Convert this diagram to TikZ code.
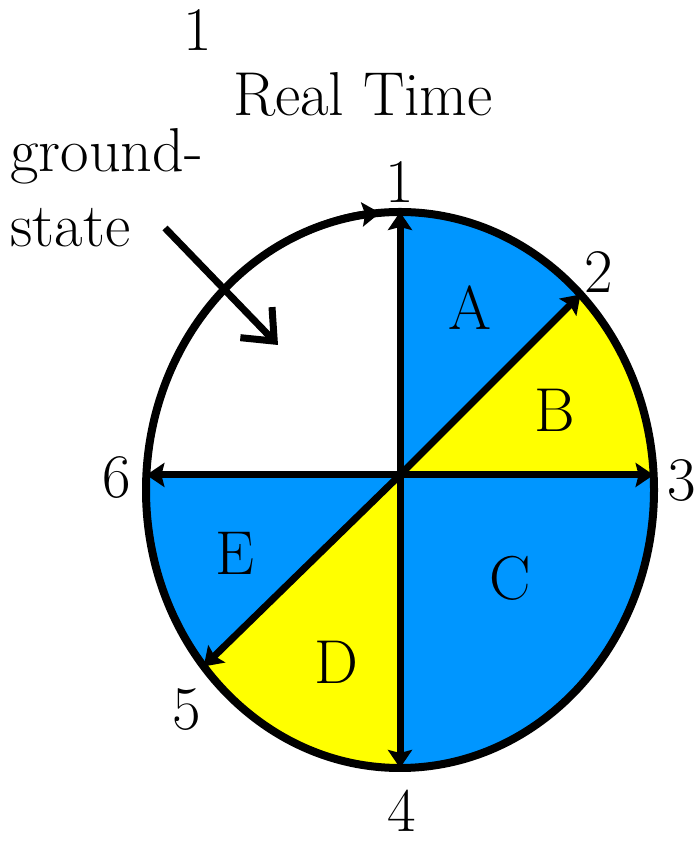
\documentclass[tikz,border=0pt]{standalone}
\usetikzlibrary{arrows.meta,calc}
\definecolor{rtInk}{HTML}{000000}
\definecolor{rtBlue}{HTML}{0096FF}
\definecolor{rtYellow}{HTML}{FFFF00}
\tikzset{
  lbl/.style={font=\fontsize{31}{37.5}\selectfont, inner sep=0pt},
  rim/.style={draw=rtInk, line width=4pt},
  arr/.style={-{Stealth[length=9pt, width=12pt, inset=1.5pt]}, line width=3.5pt, draw=rtInk},
  dbl/.style={{Stealth[length=9pt, width=12pt, inset=1.5pt]}-{Stealth[length=9pt, width=12pt, inset=1.5pt]}, line width=3.5pt, draw=rtInk},
  ptr/.style={-{Straight Barb[length=13pt, width=22pt]}, line width=3.5pt, draw=rtInk},
}
\begin{document}
\begin{tikzpicture}[x=0.5pt, y=0.5pt]
  \useasboundingbox (0,0) rectangle (696,845);
  \coordinate (E0) at (400,355);
  \coordinate (O) at (400,370);
  \foreach \n/\a in {1/90, 2/44.7, 3/3.1, 4/-90, 5/-140.6, 6/-183.1}
    \coordinate (p\n) at ($(E0)+(\a:254 and 278)$);
  \coordinate (m0) at ($(E0)+(115:254 and 278)$);
  \coordinate (gs0) at (165,617);
  \coordinate (gs1) at (278,500);

  % coloured sectors
  \foreach \s/\e/\c in {90/44.7/rtBlue, 44.7/3.1/rtYellow, 3.1/-90/rtBlue, -90/-140.6/rtYellow, -140.6/-183.1/rtBlue}
    \fill[\c] (O) -- ($(E0)+(\s:254 and 278)$) arc[start angle=\s, end angle=\e, x radius=254, y radius=278] -- cycle;
  \draw[rim] (E0) ellipse [x radius=254, y radius=278];

  \draw[dbl] (p4) -- (p1);
  \draw[dbl] (p6) -- (p3);
  \draw[arr] (O) -- (p2);
  \draw[arr] (O) -- (p5);
  \draw[arr] (m0) arc[start angle=115, end angle=94.5, x radius=254, y radius=278];
  \draw[ptr] (gs0) -- (gs1);

  \node[lbl] (n1top) at (198,815) {1};
  \node[lbl] (title) at (363,751) {Real Time};
  \node[lbl, align=left, anchor=north west] (gs) at (10,717) {ground-\\state};
  \node[lbl] (l1) at (400,663) {1};
  \node[lbl] (l2) at (599,573) {2};
  \node[lbl] (l3) at (682,364) {3};
  \node[lbl] (l4) at (402,34) {4};
  \node[lbl] (l5) at (187,135) {5};
  \node[lbl] (l6) at (117,367) {6};
  \node[lbl] (rA) at (470,537) {A};
  \node[lbl] (rB) at (555,435) {B};
  \node[lbl] (rC) at (510,267) {C};
  \node[lbl] (rD) at (336,183) {D};
  \node[lbl] (rE) at (235,292) {E};
\end{tikzpicture}
\end{document}
